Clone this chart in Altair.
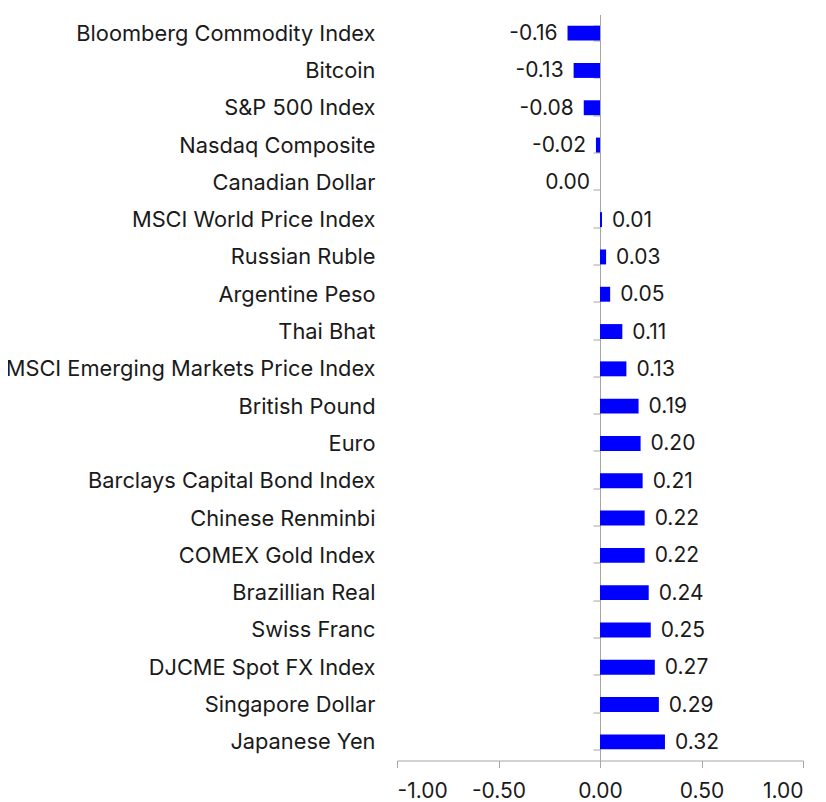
import altair as alt
import pandas as pd

categories = [
    "Bloomberg Commodity Index", "Bitcoin", "S&P 500 Index", "Nasdaq Composite",
    "Canadian Dollar", "MSCI World Price Index", "Russian Ruble", "Argentine Peso",
    "Thai Bhat", "MSCI Emerging Markets Price Index", "British Pound", "Euro",
    "Barclays Capital Bond Index", "Chinese Renminbi", "COMEX Gold Index",
    "Brazillian Real", "Swiss Franc", "DJCME Spot FX Index", "Singapore Dollar",
    "Japanese Yen",
]
values = [-0.16, -0.13, -0.08, -0.02, 0.00, 0.01, 0.03, 0.05, 0.11, 0.13,
          0.19, 0.20, 0.21, 0.22, 0.22, 0.24, 0.25, 0.27, 0.29, 0.32]
x_ticks = [-1.0, -0.5, 0.0, 0.5, 1.0]

df = pd.DataFrame({"name": categories, "value": values})
df["label"] = [f"{v:.2f}" for v in values]

FONT = "Inter"
FS = 21
TXT = "#1a1a1a"
GRID = "#a6a6a6"

y_enc = alt.Y("name:N", sort=categories, title=None,
              scale=alt.Scale(paddingInner=0.6, paddingOuter=0.3),
              axis=alt.Axis(offset=-203, domainColor=GRID, tickColor=GRID,
                            tickSize=7, tickBand="extent", labelPadding=218,
                            labelFontSize=21.8, labelFont=FONT, labelColor=TXT,
                            labelLimit=500, grid=False))
x_enc = alt.X("value:Q", title=None,
              scale=alt.Scale(domain=[-1, 1], nice=False),
              axis=alt.Axis(values=x_ticks, domainColor=GRID, tickColor=GRID,
                            tickSize=7, labelPadding=13, labelFontSize=FS,
                            labelFont=FONT, labelColor=TXT, grid=False,
                            labelExpr="(datum.value < 0 ? '-' : '') + format(abs(datum.value), '.2f')"))

base = alt.Chart(df)
bars = base.mark_bar(color="#0000ff").encode(x=x_enc, y=y_enc)
txt_neg = base.transform_filter("datum.value <= 0").mark_text(
    align="right", baseline="middle", dx=-10, dy=1, fontSize=FS, font=FONT, color=TXT
).encode(x="value:Q", y=alt.Y("name:N", sort=categories), text="label:N")
txt_pos = base.transform_filter("datum.value > 0").mark_text(
    align="left", baseline="middle", dx=10, dy=1, fontSize=FS, font=FONT, color=TXT
).encode(x="value:Q", y=alt.Y("name:N", sort=categories), text="label:N")

chart = (bars + txt_neg + txt_pos).properties(
    width=406, height=746,
    autosize=alt.AutoSizeParams(type="none"),
    padding={"left": 389, "top": 6.5, "right": 15, "bottom": 40},
).configure_view(stroke=None)

chart.save("out.html", embed_options={"renderer": "svg", "actions": False})
